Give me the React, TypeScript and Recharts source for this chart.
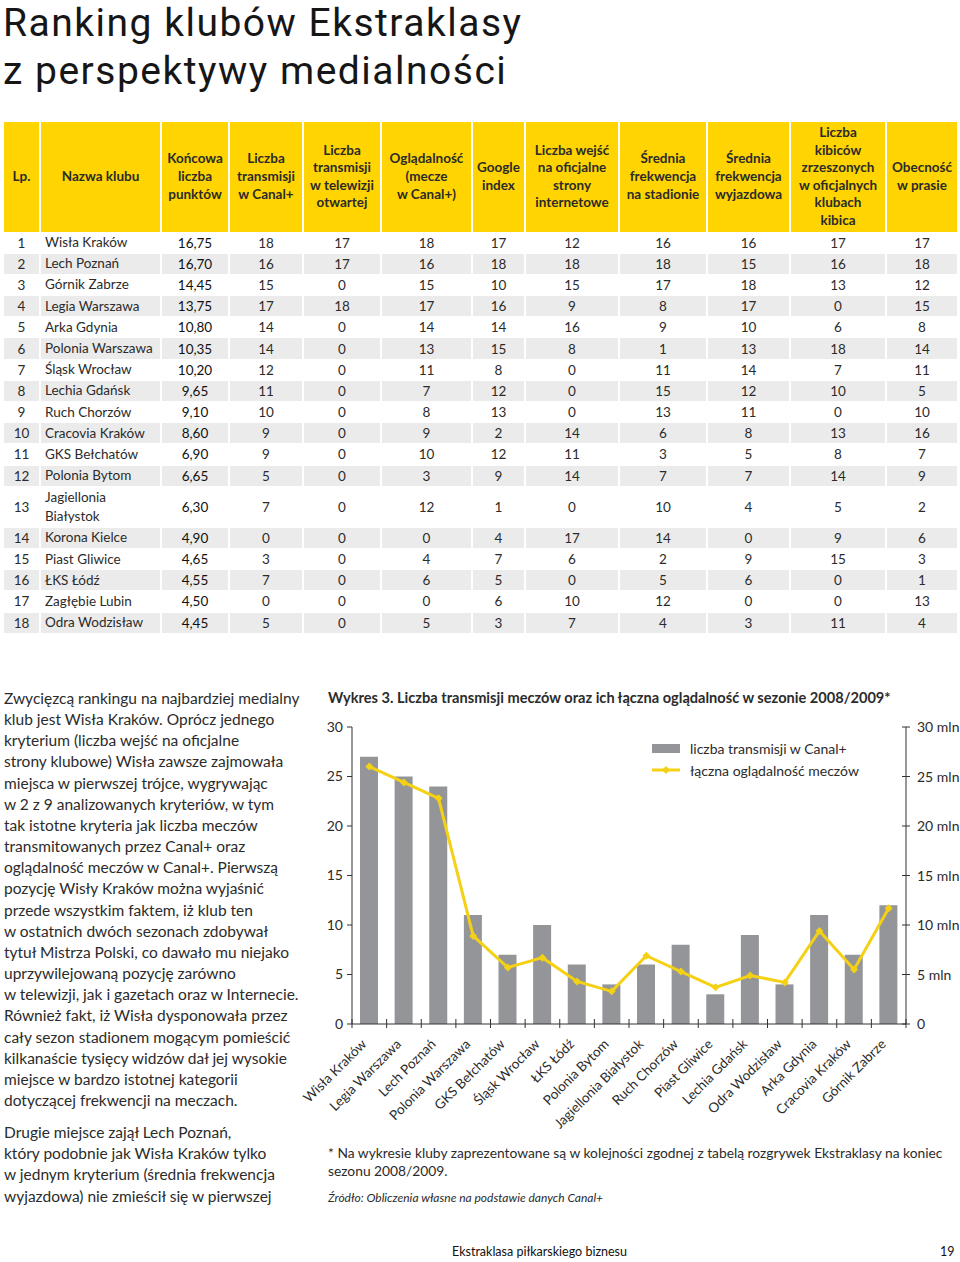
import React from "react";
import { ComposedChart, Bar, Line, XAxis, YAxis, Legend } from "recharts";

// wykres 3 – kluby w kolejności tabeli 2008/2009
const clubs = [
  "Wisła Kraków",
  "Legia Warszawa",
  "Lech Poznań",
  "Polonia Warszawa",
  "GKS Bełchatów",
  "Śląsk Wrocław",
  "ŁKS Łódź",
  "Polonia Bytom",
  "Jagiellonia Białystok",
  "Ruch Chorzów",
  "Piast Gliwice",
  "Lechia Gdańsk",
  "Odra Wodzisław",
  "Arka Gdynia",
  "Cracovia Kraków",
  "Górnik Zabrze",
];
const transmisje = [27, 25, 24, 11, 7, 10, 6, 4, 6, 8, 3, 9, 4, 11, 7, 12];
const ogladalnoscMln = [26.0, 24.4, 22.8, 8.9, 5.7, 6.7, 4.3, 3.3, 6.9, 5.3, 3.7, 4.9, 4.2, 9.4, 5.5, 11.7];
const axisTicks = [0, 5, 10, 15, 20, 25, 30];

// tabela rankingu
const tableHeaders = [
  ["Lp."],
  ["Nazwa klubu"],
  ["Końcowa", "liczba", "punktów"],
  ["Liczba", "transmisji", "w Canal+"],
  ["Liczba", "transmisji", "w telewizji", "otwartej"],
  ["Oglądalność", "(mecze", "w Canal+)"],
  ["Google", "index"],
  ["Liczba wejść", "na oficjalne", "strony", "internetowe"],
  ["Średnia", "frekwencja", "na stadionie"],
  ["Średnia", "frekwencja", "wyjazdowa"],
  ["Liczba", "kibiców", "zrzeszonych", "w oficjalnych", "klubach", "kibica"],
  ["Obecność", "w prasie"],
];
const tableClubs = [
  "Wisła Kraków",
  "Lech Poznań",
  "Górnik Zabrze",
  "Legia Warszawa",
  "Arka Gdynia",
  "Polonia Warszawa",
  "Śląsk Wrocław",
  "Lechia Gdańsk",
  "Ruch Chorzów",
  "Cracovia Kraków",
  "GKS Bełchatów",
  "Polonia Bytom",
  "Jagiellonia Białystok",
  "Korona Kielce",
  "Piast Gliwice",
  "ŁKS Łódź",
  "Zagłębie Lubin",
  "Odra Wodzisław",
];
const tablePoints = [
  "16,75", "16,70", "14,45", "13,75", "10,80", "10,35", "10,20", "9,65", "9,10",
  "8,60", "6,90", "6,65", "6,30", "4,90", "4,65", "4,55", "4,50", "4,45",
];
const tableScores = [
  [18, 17, 18, 17, 12, 16, 16, 17, 17],
  [16, 17, 16, 18, 18, 18, 15, 16, 18],
  [15, 0, 15, 10, 15, 17, 18, 13, 12],
  [17, 18, 17, 16, 9, 8, 17, 0, 15],
  [14, 0, 14, 14, 16, 9, 10, 6, 8],
  [14, 0, 13, 15, 8, 1, 13, 18, 14],
  [12, 0, 11, 8, 0, 11, 14, 7, 11],
  [11, 0, 7, 12, 0, 15, 12, 10, 5],
  [10, 0, 8, 13, 0, 13, 11, 0, 10],
  [9, 0, 9, 2, 14, 6, 8, 13, 16],
  [9, 0, 10, 12, 11, 3, 5, 8, 7],
  [5, 0, 3, 9, 14, 7, 7, 14, 9],
  [7, 0, 12, 1, 0, 10, 4, 5, 2],
  [0, 0, 0, 4, 17, 14, 0, 9, 6],
  [3, 0, 4, 7, 6, 2, 9, 15, 3],
  [7, 0, 6, 5, 0, 5, 6, 0, 1],
  [0, 0, 0, 6, 10, 12, 0, 0, 13],
  [5, 0, 5, 3, 7, 4, 3, 11, 4],
];
const colWidths = [36, 121, 68, 74, 78, 91, 53, 94, 88, 83, 96, 71];

const paragraph1 = [
  "Zwycięzcą rankingu na najbardziej medialny",
  "klub jest Wisła Kraków. Oprócz jednego",
  "kryterium (liczba wejść na oficjalne",
  "strony klubowe) Wisła zawsze zajmowała",
  "miejsca w pierwszej trójce, wygrywając",
  "w 2 z 9 analizowanych kryteriów, w tym",
  "tak istotne kryteria jak liczba meczów",
  "transmitowanych przez Canal+ oraz",
  "oglądalność meczów w Canal+. Pierwszą",
  "pozycję Wisły Kraków można wyjaśnić",
  "przede wszystkim faktem, iż klub ten",
  "w ostatnich dwóch sezonach zdobywał",
  "tytuł Mistrza Polski, co dawało mu niejako",
  "uprzywilejowaną pozycję zarówno",
  "w telewizji, jak i gazetach oraz w Internecie.",
  "Również fakt, iż Wisła dysponowała przez",
  "cały sezon stadionem mogącym pomieścić",
  "kilkanaście tysięcy widzów dał jej wysokie",
  "miejsce w bardzo istotnej kategorii",
  "dotyczącej frekwencji na meczach.",
];
const paragraph2 = [
  "Drugie miejsce zajął Lech Poznań,",
  "który podobnie jak Wisła Kraków tylko",
  "w jednym kryterium (średnia frekwencja",
  "wyjazdowa) nie zmieścił się w pierwszej",
];

const chartData = clubs.map((club, i) => ({
  club,
  transmisje: transmisje[i],
  ogladalnosc: ogladalnoscMln[i],
}));

const FONT = "Lato, 'Open Sans', sans-serif";
const TEXT = "#2b2b2b";
const YELLOW = "#FFD400";
const LINE_YELLOW = "#F4D114";
const GRAY = "#939598";

const CHART_W = 660;
const CHART_H = 430;
const LEFT_AXIS_W = 52;
const RIGHT_AXIS_W = 54;
const BAND = (CHART_W - LEFT_AXIS_W - RIGHT_AXIS_W) / clubs.length;

function ClubTick(props: any) {
  const { x, y, payload, index } = props;
  const edge = x - BAND / 2;
  const ax = x - 2;
  const ay = y + 21;
  return (
    <g>
      <line x1={edge} y1={y - 5} x2={edge} y2={y + 4} stroke="#333" />
      {index === clubs.length - 1 && (
        <line x1={x + BAND / 2} y1={y - 5} x2={x + BAND / 2} y2={y + 4} stroke="#333" />
      )}
      <text
        x={ax}
        y={ay}
        transform={`rotate(-45 ${ax} ${ay})`}
        textAnchor="end"
        fontSize={13.5}
        fill={TEXT}
      >
        {payload.value}
      </text>
    </g>
  );
}

function MlnTick(props: any) {
  const { x, y, payload } = props;
  return (
    <g>
      <line x1={x - 4} y1={y} x2={x + 4} y2={y} stroke="#333" />
      <text x={x + 11} y={y} dy={5} fontSize={14} fill={TEXT}>
        {payload.value === 0 ? "0" : `${payload.value} mln`}
      </text>
    </g>
  );
}

function Diamond(props: any) {
  const { cx, cy } = props;
  if (cx == null || cy == null) return null;
  return (
    <path
      d={`M${cx},${cy - 4}L${cx + 4},${cy}L${cx},${cy + 4}L${cx - 4},${cy}Z`}
      fill={LINE_YELLOW}
    />
  );
}

function ChartLegend() {
  return (
    <div style={{ fontSize: 14, color: TEXT, fontFamily: FONT, whiteSpace: "nowrap" }}>
      <div style={{ display: "flex", alignItems: "center", height: 22 }}>
        <div style={{ width: 28, height: 9, background: GRAY, marginRight: 10 }} />
        liczba transmisji w Canal+
      </div>
      <div style={{ display: "flex", alignItems: "center", height: 22 }}>
        <svg width={28} height={10} style={{ marginRight: 10 }}>
          <line x1={0} y1={5} x2={28} y2={5} stroke={LINE_YELLOW} strokeWidth={3} />
          <path d="M14,1L18,5L14,9L10,5Z" fill={LINE_YELLOW} />
        </svg>
        łączna oglądalność meczów
      </div>
    </div>
  );
}

function RankingTable() {
  const cell = (i: number): React.CSSProperties => ({
    width: colWidths[i],
    borderRight: i < colWidths.length - 1 ? "2px solid #fff" : "none",
    textAlign: i === 1 ? "left" : "center",
    padding: i === 1 ? "0 0 0 4px" : 0,
    boxSizing: "border-box",
  });
  return (
    <table
      style={{
        position: "absolute",
        left: 4,
        top: 122,
        width: 953,
        borderCollapse: "collapse",
        tableLayout: "fixed",
        fontSize: 13.5,
        color: TEXT,
      }}
    >
      <colgroup>
        {colWidths.map((w, i) => (
          <col key={i} style={{ width: w }} />
        ))}
      </colgroup>
      <thead>
        <tr style={{ height: 110, background: YELLOW }}>
          {tableHeaders.map((lines, i) => (
            <th
              key={i}
              style={{
                ...cell(i),
                textAlign: "center",
                padding: 0,
                fontWeight: 700,
                fontSize: 13.5,
                lineHeight: "17.6px",
              }}
            >
              {lines.map((l, j) => (
                <div key={j}>{l}</div>
              ))}
            </th>
          ))}
        </tr>
      </thead>
      <tbody>
        {tableClubs.map((club, r) => (
          <tr
            key={club}
            style={{
              height: r === 12 ? 41 : 21.2,
              background: r % 2 === 1 ? "#ebebeb" : "#fff",
              borderTop: "1px solid #fff",
            }}
          >
            <td style={cell(0)}>{r + 1}</td>
            <td style={{ ...cell(1), whiteSpace: "nowrap", lineHeight: "19px" }}>
              {r === 12 ? (
                <>
                  Jagiellonia
                  <br />
                  Białystok
                </>
              ) : (
                club
              )}
            </td>
            <td style={{ ...cell(2), color: "#111" }}>{tablePoints[r]}</td>
            {tableScores[r].map((v, c) => (
              <td key={c} style={cell(c + 3)}>
                {v}
              </td>
            ))}
          </tr>
        ))}
      </tbody>
    </table>
  );
}

export default function App() {
  const titleLine: React.CSSProperties = {
    position: "absolute",
    left: 3,
    fontFamily: "Roboto, sans-serif",
    fontSize: 39,
    lineHeight: "normal",
    letterSpacing: 1.5,
    color: "#161616",
    whiteSpace: "nowrap",
  };
  return (
    <div
      style={{
        position: "absolute",
        left: 0,
        top: 0,
        width: 960,
        height: 1262,
        background: "#fff",
        fontFamily: FONT,
        color: TEXT,
        overflow: "hidden",
      }}
    >
      <div style={{ ...titleLine, top: 0 }}>Ranking klubów Ekstraklasy</div>
      <div style={{ ...titleLine, top: 48 }}>z perspektywy medialności</div>

      <RankingTable />

      <div style={{ position: "absolute", left: 4, top: 688, fontSize: 15.5, lineHeight: "21.15px" }}>
        {paragraph1.map((l, i) => (
          <div key={i} style={{ whiteSpace: "nowrap" }}>
            {l}
          </div>
        ))}
        <div style={{ height: 11 }} />
        {paragraph2.map((l, i) => (
          <div key={i} style={{ whiteSpace: "nowrap" }}>
            {l}
          </div>
        ))}
      </div>

      <div
        style={{
          position: "absolute",
          left: 328,
          top: 689,
          fontSize: 14.6,
          fontWeight: 700,
          whiteSpace: "nowrap",
        }}
      >
        Wykres 3. Liczba transmisji meczów oraz ich łączna oglądalność w sezonie 2008/2009*
      </div>

      <div style={{ position: "absolute", left: 300, top: 715 }}>
        <ComposedChart
          width={CHART_W}
          height={CHART_H}
          data={chartData}
          margin={{ top: 12, right: 0, bottom: 0, left: 0 }}
          barCategoryGap={0}
        >
          <XAxis
            dataKey="club"
            interval={0}
            height={CHART_H - 12 - 297}
            tickSize={0}
            tickMargin={0}
            tick={<ClubTick />}
            axisLine={{ stroke: "#333" }}
            tickLine={false}
          />
          <YAxis
            yAxisId="left"
            orientation="left"
            width={LEFT_AXIS_W}
            domain={[0, 30]}
            ticks={axisTicks}
            tickSize={5}
            tickMargin={4}
            tick={{ fill: TEXT, fontSize: 14 }}
            axisLine={{ stroke: "#333" }}
            tickLine={{ stroke: "#333" }}
          />
          <YAxis
            yAxisId="right"
            orientation="right"
            width={RIGHT_AXIS_W}
            domain={[0, 30]}
            ticks={axisTicks}
            tickSize={0}
            tickMargin={0}
            tick={<MlnTick />}
            axisLine={{ stroke: "#333" }}
            tickLine={false}
          />
          <Legend
            layout="vertical"
            verticalAlign="middle"
            align="center"
            content={<ChartLegend />}
            wrapperStyle={{ left: 352, top: 22, width: 260, height: 44 }}
          />
          <Bar
            yAxisId="left"
            dataKey="transmisje"
            name="liczba transmisji w Canal+"
            fill={GRAY}
            barSize={18}
            isAnimationActive={false}
          />
          <Line
            yAxisId="right"
            dataKey="ogladalnosc"
            name="łączna oglądalność meczów"
            stroke={LINE_YELLOW}
            strokeWidth={3}
            dot={<Diamond />}
            activeDot={false}
            isAnimationActive={false}
          />
        </ComposedChart>
      </div>

      <div style={{ position: "absolute", left: 328, top: 1144, fontSize: 13.8, lineHeight: "18px", width: 632, whiteSpace: "nowrap" }}>
        * Na wykresie kluby zaprezentowane są w kolejności zgodnej z tabelą rozgrywek Ekstraklasy na koniec
        <br />
        sezonu 2008/2009.
      </div>
      <div style={{ position: "absolute", left: 328, top: 1190, fontSize: 12, fontStyle: "italic" }}>
        Źródło: Obliczenia własne na podstawie danych Canal+
      </div>

      <div style={{ position: "absolute", left: 452, top: 1244, fontSize: 12.5, color: "#111" }}>
        Ekstraklasa piłkarskiego biznesu
      </div>
      <div style={{ position: "absolute", left: 940, top: 1244, fontSize: 12.5, color: "#111" }}>19</div>
    </div>
  );
}
